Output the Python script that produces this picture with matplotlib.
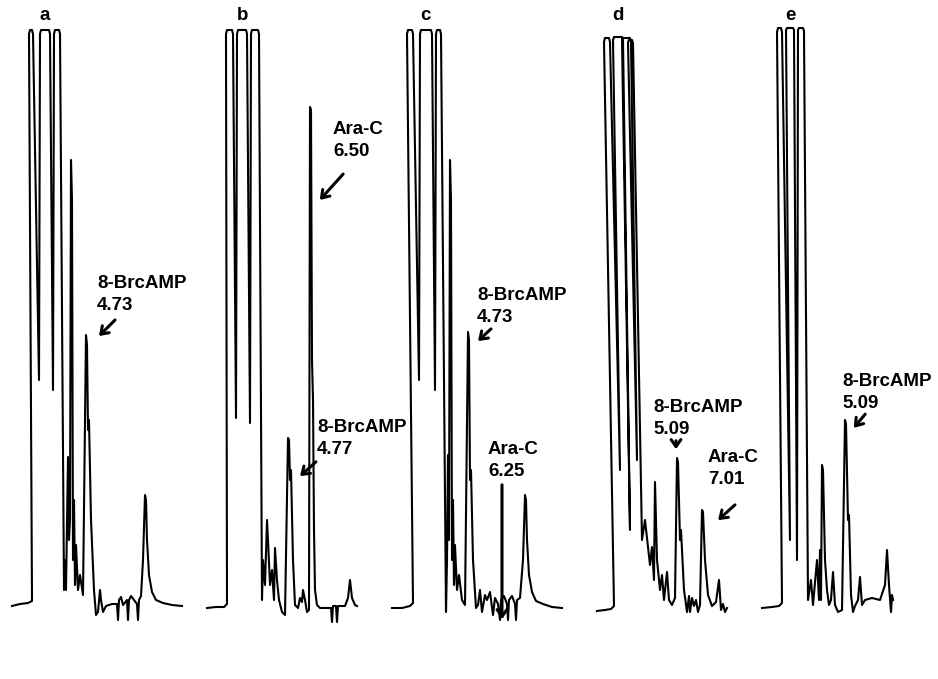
import matplotlib.pyplot as plt

# chromatogram traces: time (px units from panel start) and detector response (px above baseline)
a_t = [12, 20, 28, 32, 29, 30, 32, 33, 39, 40, 41, 49, 50, 53, 54, 55, 59, 60, 64,
       65, 66, 68, 69, 70, 71, 72, 73, 74, 75, 76, 78, 80, 83, 86, 87, 88, 89, 91, 94,
       96, 98, 100, 101, 103, 106, 112, 117, 118, 119, 121, 123, 127, 128, 129, 131,
       134, 137, 138, 139, 141, 143, 145, 146, 147, 149, 152, 156, 163, 172, 182]
a_y = [2, 4, 5, 7, 574, 578, 578, 574, 228, 574, 578, 578, 574, 218, 574, 578, 578, 574, 18,
       48, 18, 151, 68, 88, 448, 408, 48, 108, 23, 63, 18, 33, 13, 273, 263, 178, 188, 88, 18,
       -7, -4, 18, 8, -4, 2, 4, 4, -12, 8, 11, 3, 8, -12, 8, 12,
       8, 4, -12, 8, 12, 48, 113, 108, 68, 33, 16, 8, 5, 3, 2]

b_t = [17, 26, 34, 37, 36, 37, 42, 43, 46, 47, 48, 56, 57, 60, 61, 62, 68, 69, 72,
       73, 75, 77, 78, 80, 82, 84, 85, 87, 89, 92, 95, 98, 99, 100, 101, 103, 105, 108,
       110, 112, 113, 115, 117, 119, 120, 121, 122, 123, 124, 125, 127, 130, 141, 142,
       143, 146, 147, 148, 155, 158, 160, 162, 165, 167]
b_y = [0, 1, 1, 4, 574, 578, 578, 574, 190, 574, 578, 578, 574, 185, 574, 578, 578, 574, 8,
       48, 23, 88, 68, 23, 38, 8, 60, 28, 8, -4, -7, 170, 168, 128, 138, 48, 3, 0,
       10, 6, 18, 8, -4, -2, 501, 498, 248, 208, 78, 18, 3, 0, 0, -14,
       2, 2, -14, 2, 2, 10, 28, 10, 3, 2]

c_t = [12, 22, 30, 33, 27, 28, 32, 33, 39, 40, 41, 51, 52, 55, 56, 57, 60, 61, 66,
       67, 68, 69, 70, 71, 72, 73, 74, 75, 77, 79, 82, 85, 88, 89, 90, 91, 93, 96, 98,
       100, 102, 105, 107, 110, 113, 115, 118, 120, 121, 124, 127, 128, 129, 132, 135,
       136, 137, 140, 143, 145, 146, 147, 149, 152, 156, 163, 172, 182]
c_y = [0, 0, 2, 5, 574, 578, 578, 574, 228, 574, 578, 578, 574, 218, 574, 578, 578, 574, -4,
       48, 153, 68, 448, 408, 48, 108, 23, 63, 18, 33, 8, 3, 276, 268, 128, 138, 48, 0, 3,
       18, -4, 13, 8, 16, -7, 10, 4, -12, 8, 12, 4, -12, 8, 12, 4,
       -12, 8, 10, 48, 113, 108, 68, 33, 16, 7, 4, 1, 0]

d_t = [27, 35, 41, 44, 34, 35, 39, 40, 50, 43, 44, 52, 53, 60, 52, 53, 60, 61, 67,
       58, 59, 62, 63, 72, 75, 80, 82, 84, 85, 87, 90, 92, 94, 97, 99, 102, 105, 107,
       108, 110, 111, 114, 117, 119, 120, 122, 124, 126, 128, 130, 132, 133, 135, 138,
       142, 146, 149, 151, 153, 155, 157]
d_y = [-3, -2, -1, 2, 566, 570, 570, 566, 138, 568, 571, 571, 568, 78, 568, 570, 570, 566, 148,
       566, 568, 568, 565, 68, 88, 43, 61, 28, 126, 48, 18, 33, 8, 36, 8, 3, 10, 150,
       146, 68, 78, 18, -4, 12, -4, 10, 2, 8, -4, 3, 98, 96, 48, 13,
       2, 6, 28, -2, 4, -4, 0]

e_t = [12, 22, 29, 32, 27, 28, 31, 32, 40, 36, 37, 43, 44, 47, 48, 49, 53, 54, 58,
       61, 63, 67, 69, 70, 71, 72, 73, 75, 77, 79, 81, 83, 85, 88, 92, 95, 96, 98, 99,
       101, 103, 105, 108, 110, 112, 115, 122, 130, 135, 137, 139, 141, 142, 143]
e_y = [0, 1, 2, 5, 576, 580, 580, 576, 68, 578, 580, 580, 578, 48, 578, 580, 580, 577, 8,
       28, 3, 48, 8, 58, 8, 143, 138, 48, 18, 3, 8, 36, 3, -4, -2, 188, 184, 88, 93,
       13, -4, 2, 8, 31, 3, 8, 10, 8, 23, 58, 23, -4, 13, 8]

panel_letters = ['a', 'b', 'c', 'd', 'e']
traces = [(a_t, a_y), (b_t, b_y), (c_t, c_y), (d_t, d_y), (e_t, e_y)]

# peak labels: panel, name, retention time, text anchor, arrow tail, arrow head
labels = [
    (0, '8-BrcAMP', '4.73', (97, 325), (117, 290), (97, 270)),
    (1, 'Ara-C', '6.50', (143, 478), (155, 436), (128, 406)),
    (1, '8-BrcAMP', '4.77', (127, 181), (128, 148), (108, 130)),
    (2, '8-BrcAMP', '4.73', (97, 312), (113, 281), (96, 265)),
    (2, 'Ara-C', '6.25', (108, 158), (122, 126), (122, -14)),
    (3, '8-BrcAMP', '5.09', (83, 200), (106, 170), (106, 156)),
    (3, 'Ara-C', '7.01', (138, 150), (167, 105), (146, 86)),
    (4, '8-BrcAMP', '5.09', (92, 227), (117, 196), (102, 178)),
]
letter_x = [45, 53, 45, 48, 40]

W, H = 938, 679
panel_left = [0, 190, 380, 570, 750]
baseline_px = 608

fig = plt.figure(figsize=(W / 100, H / 100), dpi=100)
font = dict(family='Liberation Sans', weight='bold', fontsize=13.5)

axes = []
for i, (t, y) in enumerate(traces):
    ax = fig.add_axes([panel_left[i] / W, 0, 190 / W, 1])
    ax.set_xlim(0, 190)
    ax.set_ylim(baseline_px - H, baseline_px)
    ax.axis('off')
    ax.patch.set_alpha(0)
    ax.plot(t, y, color='black', lw=1.5, solid_joinstyle='round', clip_on=False)
    ax.text(letter_x[i], 592, panel_letters[i], ha='center', va='center', **font)
    axes.append(ax)

for p, name, rt, (tx, ty), tail, head in labels:
    ax = axes[p]
    ax.text(tx, ty, name, ha='left', va='center', **font)
    ax.text(tx, ty - 22, rt, ha='left', va='center', **font)
    ax.annotate('', xy=head, xytext=tail,
                arrowprops=dict(arrowstyle='->,head_length=0.5,head_width=0.35',
                                color='black', lw=2.2), annotation_clip=False)

fig.savefig('out.png', dpi=100, facecolor='white')
